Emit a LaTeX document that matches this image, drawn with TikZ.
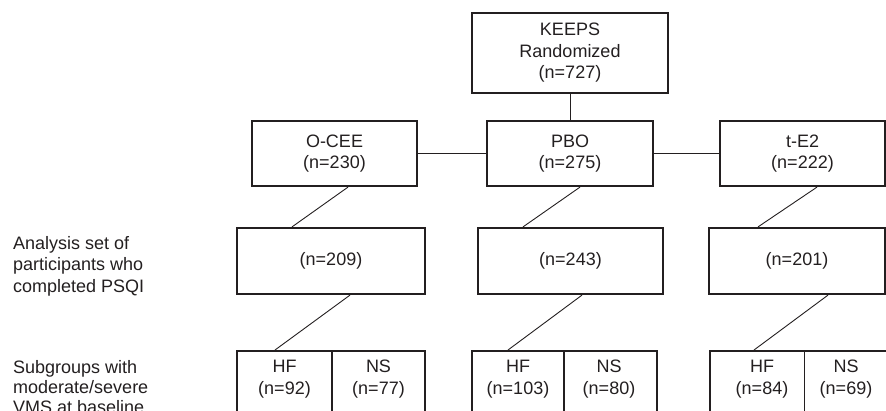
\documentclass[tikz,border=0pt]{standalone}
\usepackage{fontspec}
\setmainfont{Liberation Sans}
\usetikzlibrary{calc}
\definecolor{ink}{HTML}{231F20}

\begin{document}
\begin{tikzpicture}[x=1pt, y=-1pt,
		box/.style={draw=ink, line width=2.2pt, minimum height=65pt, inner sep=0pt, align=center},
		txt/.style={text=ink, font=\fontsize{18}{21.5}\selectfont},
		link/.style={draw=ink, line width=0.9pt},
		bar/.style={draw=ink, line width=1.6pt}]
			\useasboundingbox (0,0) rectangle (886,410);
			\clip (0,0) rectangle (886,410);
			% top of the flow
			\node[box, txt, minimum width=196pt, minimum height=80pt] (keeps) at (570,53) {KEEPS\\Randomized\\(n=727)};
			\node[box, txt, minimum width=165pt] (ocee) at (334.5,153.5) {O-CEE\\(n=230)};
			\node[box, txt, minimum width=166pt] (pbo) at (570,153.5) {PBO\\(n=275)};
			\node[box, txt, minimum width=165pt] (te2) at (802.5,153.5) {t-E2\\(n=222)};
			% analysis set
			\node[box, txt, minimum width=188pt, minimum height=66pt] (ana1) at (331,261) {(n=209)};
			\node[box, txt, minimum width=185pt, minimum height=66pt] (ana2) at (570.5,261) {(n=243)};
			\node[box, txt, minimum width=176pt, minimum height=66pt] (ana3) at (797,261) {(n=201)};
			% subgroups
			\node[box, minimum width=188pt, minimum height=80pt, anchor=north] (sub1) at (331,350) {};
			\node[box, minimum width=185pt, minimum height=80pt, anchor=north] (sub2) at (564.5,350) {};
			\node[box, minimum width=188pt, minimum height=80pt, anchor=north] (sub3) at (804,350) {};
			\draw[draw=ink, line width=1.2pt] (sub1.north -| 332,0) -- (sub1.south -| 332,0);
			\draw[draw=ink, line width=1.2pt] (sub2.north -| 564,0) -- (sub2.south -| 564,0);
			\draw[draw=ink, line width=0.8pt] (sub3.north -| 804,0) -- (sub3.south -| 804,0);
			\node[txt, align=center] (hf1) at (284.5,379) {HF\\(n=92)};
			\node[txt, align=center] (ns1) at (378.5,379) {NS\\(n=77)};
			\node[txt, align=center] (hf2) at (518,379) {HF\\(n=103)};
			\node[txt, align=center] (ns2) at (609,379) {NS\\(n=80)};
			\node[txt, align=center] (hf3) at (762,379) {HF\\(n=84)};
			\node[txt, align=center] (ns3) at (846,379) {NS\\(n=69)};
			% row labels
			\node[txt, align=left, anchor=west, inner sep=0pt] (lblana) at (13,266) {Analysis set of\\participants who\\completed PSQI};
			\node[txt, align=left, anchor=west, inner sep=0pt, font=\fontsize{18}{20}\selectfont] (lblsub) at (13,387) {Subgroups with\\moderate/severe\\VMS at baseline};
			% connectors
			\draw[draw=ink, line width=1pt] (keeps.south) -- (pbo.north);
			\draw[bar] (ocee.east) -- (pbo.west);
			\draw[bar] (pbo.east) -- (te2.west);
			\draw[link] ([xshift=13.5pt]ocee.south) -- ([xshift=-39pt]ana1.north);
			\draw[link] ([xshift=10pt]pbo.south) -- ([xshift=-47.5pt]ana2.north);
			\draw[link] ([xshift=14.5pt]te2.south) -- ([xshift=-39pt]ana3.north);
			\draw[link] ([xshift=19pt]ana1.south) -- ([xshift=-56pt]sub1.north);
			\draw[link] ([xshift=11.5pt]ana2.south) -- ([xshift=-56.5pt]sub2.north);
			\draw[link] ([xshift=31pt]ana3.south) -- ([xshift=-50pt]sub3.north);
		\end{tikzpicture}
\end{document}
